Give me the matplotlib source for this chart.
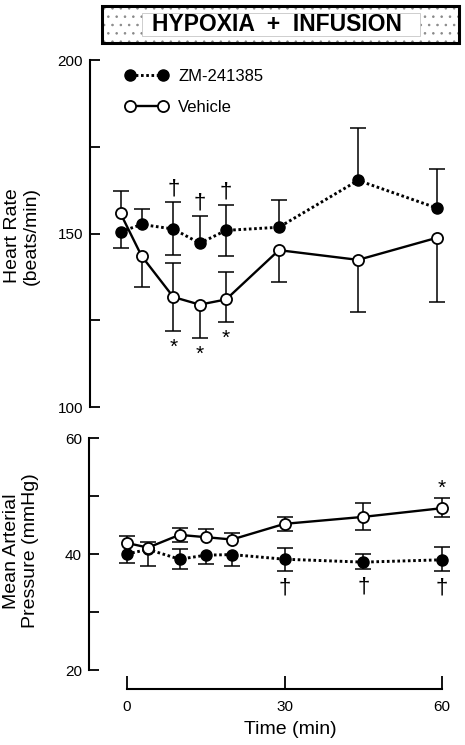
import matplotlib
matplotlib.use('Agg')
import matplotlib.pyplot as plt
from matplotlib.patches import Rectangle

plt.rcParams['font.family'] = ['Liberation Sans', 'DejaVu Sans']
plt.rcParams['hatch.linewidth'] = 0.6

# ---------------- data ----------------
time_min = [0, 4, 10, 15, 20, 30, 45, 60]

hr_zm = [150.5, 152.6, 151.3, 147.2, 150.9, 151.8, 165.3, 157.3]
hr_zm_up = [0, 4.5, 7.7, 7.9, 7.2, 7.9, 15.0, 11.2]
hr_zm_lo = [4.6, 0, 7.5, 0, 7.3, 0, 0, 0]
hr_veh = [155.8, 143.5, 131.7, 129.5, 131.0, 145.2, 142.4, 148.8]
hr_veh_up = [6.5, 0, 9.8, 0, 7.8, 0, 0, 0]
hr_veh_lo = [0, 8.8, 9.9, 9.7, 6.6, 9.1, 15.1, 18.6]

map_zm = [40.0, 40.8, 39.1, 39.8, 39.9, 39.1, 38.6, 39.0]
map_zm_up = [0, 0, 1.8, 0, 0, 1.9, 1.4, 2.2]
map_zm_lo = [1.5, 2.8, 1.6, 1.6, 1.9, 2.0, 1.2, 1.9]
map_veh = [41.9, 41.1, 43.3, 42.9, 42.5, 45.2, 46.4, 47.9]
map_veh_up = [1.2, 0.9, 1.2, 1.4, 1.1, 1.2, 2.4, 1.8]
map_veh_lo = [0, 0, 1.2, 0, 0, 1.2, 2.3, 1.6]

hr_dagger_idx = [2, 3, 4]     # ZM vs vehicle
hr_star_idx = [2, 3, 4]       # vehicle vs baseline
map_dagger_idx = [5, 6, 7]
map_star_idx = [7]

hr_ticks = [100, 125, 150, 175, 200]
hr_ticklabels = ['100', '', '150', '', '200']
map_ticks = [20, 30, 40, 50, 60]
map_ticklabels = ['20', '', '40', '', '60']
x_ticks = [0, 30, 60]
x_ticklabels = ['0', '30', '60']

series_labels = ['ZM-241385', 'Vehicle']
title_text = 'HYPOXIA  +  INFUSION'

# ---------------- figure ----------------
W, H = 465, 745
fig = plt.figure(figsize=(W / 100, H / 100), dpi=100)


def px_axes(left, top, right, bottom):
    return fig.add_axes([left / W, 1 - bottom / H, (right - left) / W, (bottom - top) / H])


ax1 = px_axes(90, 60, 460, 407)
ax2 = px_axes(89, 438, 460, 670)

ax1.set_xlim(-5.78, 64.3)
ax1.set_ylim(100, 200)
ax2.set_xlim(-7.24, 63.43)
ax2.set_ylim(20, 60)

LW_ERR = 1.1
CAP = 11.5


def draw_err(ax, t, y, up, lo):
    for ti, yi, u, l in zip(t, y, up, lo):
        for d in (u, -l):
            if d != 0:
                ax.vlines(ti, yi, yi + d, color='k', lw=LW_ERR, zorder=1)
                ax.plot([ti], [yi + d], marker='_', ms=CAP, mew=LW_ERR,
                        color='k', zorder=1)


def draw_series(ax, y_zm, y_veh):
    ax.plot(time_min, y_zm, ls=(0, (0.9, 0.9)), lw=2.1, color='k',
            marker='o', ms=8, mfc='k', mec='k', zorder=3, label=series_labels[0])
    ax.plot(time_min, y_veh, ls='-', lw=1.7, color='k',
            marker='o', ms=8, mfc='white', mec='k', mew=1.3, zorder=4,
            label=series_labels[1])


draw_err(ax1, time_min, hr_zm, hr_zm_up, hr_zm_lo)
draw_err(ax1, time_min, hr_veh, hr_veh_up, hr_veh_lo)
draw_series(ax1, hr_zm, hr_veh)
draw_err(ax2, time_min, map_zm, map_zm_up, map_zm_lo)
draw_err(ax2, time_min, map_veh, map_veh_up, map_veh_lo)
draw_series(ax2, map_zm, map_veh)

DAG = 16
STAR = 15
for i in hr_dagger_idx:
    ax1.annotate('†', (time_min[i], hr_zm[i] + hr_zm_up[i]), xytext=(0, 2),
                 textcoords='offset points', ha='center', va='bottom', fontsize=DAG)
for i in hr_star_idx:
    ax1.annotate('*', (time_min[i], hr_veh[i] - hr_veh_lo[i]), xytext=(0, -5),
                 textcoords='offset points', ha='center', va='top', fontsize=STAR)
for i in map_dagger_idx:
    ax2.annotate('†', (time_min[i], map_zm[i] - map_zm_lo[i]), xytext=(0, -5),
                 textcoords='offset points', ha='center', va='top', fontsize=DAG)
for i in map_star_idx:
    ax2.annotate('*', (time_min[i], map_veh[i] + map_veh_up[i]), xytext=(0, 0),
                 textcoords='offset points', ha='center', va='bottom', fontsize=STAR)

# axes styling
for ax, ticks, labels, lo, hi in ((ax1, hr_ticks, hr_ticklabels, 100, 200),
                                  (ax2, map_ticks, map_ticklabels, 20, 60)):
    ax.set_facecolor('none')
    for s in ('top', 'right'):
        ax.spines[s].set_visible(False)
    ax.spines['left'].set_linewidth(1.5)
    ax.spines['left'].set_bounds(lo, hi)
    ax.set_yticks(ticks)
    ax.set_yticklabels(labels)
    ax.tick_params(axis='y', direction='in', length=7.5, width=1.3,
                   labelsize=11, pad=5)

ax1.spines['bottom'].set_visible(False)
ax1.set_xticks([])

ax2.spines['bottom'].set_position(('outward', 13.7))
ax2.spines['bottom'].set_bounds(0, 60)
ax2.spines['bottom'].set_linewidth(1.5)
ax2.set_xticks(x_ticks)
ax2.set_xticklabels(x_ticklabels)
ax2.tick_params(axis='x', direction='in', length=9.4, width=1.3,
                labelsize=11, pad=8)

fig.text(290 / W, 1 - 730 / H, 'Time (min)', ha='center', va='center', fontsize=14)
fig.text(22 / W, 1 - 236 / H, 'Heart Rate\n(beats/min)', rotation=90,
         ha='center', va='center', fontsize=14, linespacing=1.1)
fig.text(21 / W, 1 - 551 / H, 'Mean Arterial\nPressure (mmHg)', rotation=90,
         ha='center', va='center', fontsize=14, linespacing=1.1)

leg = ax1.legend(loc='upper left', bbox_to_anchor=(125 / W, 1 - 69 / H),
                 bbox_transform=fig.transFigure, frameon=False, numpoints=2,
                 handlelength=2.6, handletextpad=0.6, labelspacing=0.95,
                 borderpad=0, borderaxespad=0, fontsize=12)

# title box
tax = px_axes(102, 6, 459, 43)
tax.set_xlim(0, 1)
tax.set_ylim(0, 1)
tax.axis('off')
tax.add_patch(Rectangle((0, 0), 1, 1, facecolor='white', edgecolor='#888888',
                        hatch='..', lw=0, zorder=1))
tax.add_patch(Rectangle((0.112, 0.2), 0.78, 0.62, facecolor='white',
                        edgecolor='#bbbbbb', lw=0.5, zorder=2))
tax.add_patch(Rectangle((0, 0), 1, 1, facecolor='none', edgecolor='black',
                        lw=2.2, zorder=3, clip_on=False))
tax.text(0.49, 0.5, title_text, ha='center', va='center', fontsize=16.5,
         fontweight='bold', zorder=4)

fig.savefig('out.png', dpi=100)
